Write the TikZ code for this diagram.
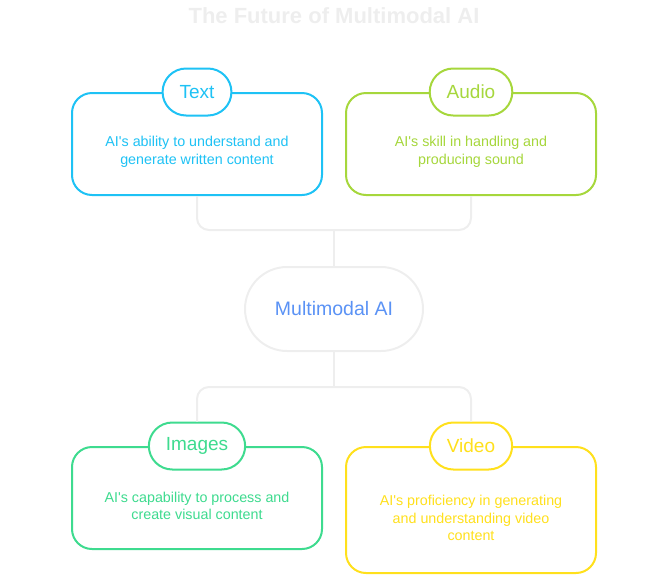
\documentclass[tikz,border=0pt]{standalone}
\usepackage{fontspec}
\setmainfont{Liberation Sans}
\usetikzlibrary{positioning}

\definecolor{textcol}{RGB}{30,194,245}
\definecolor{audiocol}{RGB}{166,215,60}
\definecolor{imagecol}{RGB}{62,219,143}
\definecolor{videocol}{RGB}{255,224,28}
\definecolor{hubcol}{RGB}{90,146,245}
\definecolor{linkgray}{RGB}{238,238,238}

\begin{document}
\begin{tikzpicture}[x=1pt,y=-1pt,
  box/.style={draw=#1, line width=2pt, rounded corners=20pt, minimum width=250pt, minimum height=102pt, fill=white},
  pill/.style={draw=#1, text=#1, line width=2pt, rounded corners=23.5pt, minimum height=47pt, inner xsep=17pt, fill=white, font=\fontsize{19}{22}\selectfont},
  desc/.style={text=#1, align=center, font=\fontsize{14.3}{17.5}\selectfont},
  link/.style={draw=linkgray, line width=2pt, rounded corners=12pt}]

\useasboundingbox (0,0) rectangle (668,579);

% Title
\node[font=\bfseries\fontsize{22}{26}\selectfont, text=linkgray] (title) at (334,16) {The Future of Multimodal AI};

% Hub in the middle
\node[draw=linkgray, line width=2pt, rounded corners=42pt, minimum width=178pt, minimum height=84pt,
  text=hubcol, font=\fontsize{19.5}{23}\selectfont] (hub) at (334,309) {Multimodal AI};

% Text
\node[box=textcol] (textbox) at (197,144) {};
\node[pill=textcol] (text) at (textbox.north) {Text};
\node[desc=textcol] (textdesc) at (197,152) {AI\textquotesingle s ability to understand and\\generate written content};

% Audio
\node[box=audiocol] (audiobox) at (471,144) {};
\node[pill=audiocol] (audio) at (audiobox.north) {Audio};
\node[desc=audiocol] (audiodesc) at (471,152) {AI\textquotesingle s skill in handling and\\producing sound};

% Images
\node[box=imagecol] (imagebox) at (197,498) {};
\node[pill=imagecol] (image) at (imagebox.north) {Images};
\node[desc=imagecol] (imagedesc) at (197,506) {AI\textquotesingle s capability to process and\\create visual content};

% Video
\node[box=videocol, minimum height=126pt] (videobox) at (471,510) {};
\node[pill=videocol] (video) at (videobox.north) {Video};
\node[desc=videocol] (videodesc) at (471,518) {AI\textquotesingle s proficiency in generating\\and understanding video\\content};

% Links from the upper boxes to the hub
\coordinate (upper) at (334,230);
\draw[link] (textbox.south) |- (upper) -| (audiobox.south);
\draw[link] (upper) -- (hub.north);

% Links from the hub to the lower boxes
\coordinate (lower) at (334,387);
\draw[link] (hub.south) -- (lower);
\draw[link] (image.north) |- (lower) -| (video.north);
\end{tikzpicture}
\end{document}
